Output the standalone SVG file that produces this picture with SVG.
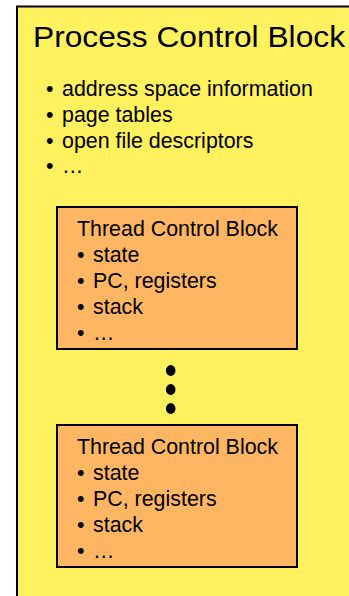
<svg xmlns="http://www.w3.org/2000/svg" width="349" height="596" viewBox="0 0 349 596">
  <style>
    .pcb { fill: #FFF25E; stroke: #000; stroke-width: 2; }
    .tcb { fill: #FFB662; stroke: #000; stroke-width: 2; }
    text { font-family: "Liberation Sans", Arial, sans-serif; fill: #000; }
    .title { font-size: 30px; }
    .item { font-size: 21.4px; }
    .dot { fill: #000; }
  </style>
  <rect width="349" height="596" fill="#fff"/>

  <!-- process control block (extends past the right and bottom edges) -->
  <g id="pcb">
    <rect class="pcb" x="17" y="6.5" width="345" height="600"/>
    <text class="title" x="33" y="47" textLength="312" lengthAdjust="spacingAndGlyphs">Process Control Block</text>
    <text class="item" x="46" y="96">•</text>
    <text class="item" x="62" y="96">address space information</text>
    <text class="item" x="46" y="122">•</text>
    <text class="item" x="62" y="122">page tables</text>
    <text class="item" x="46" y="147.5">•</text>
    <text class="item" x="62" y="147.5">open file descriptors</text>
    <text class="item" x="46" y="173">•</text>
    <text class="item" x="62" y="173">…</text>
  </g>

  <!-- first thread control block -->
  <g id="tcb1">
    <rect class="tcb" x="57" y="207" width="240" height="142"/>
    <text class="item" x="77" y="236">Thread Control Block</text>
    <text class="item" x="77" y="262">•</text>
    <text class="item" x="93" y="262">state</text>
    <text class="item" x="77" y="288">•</text>
    <text class="item" x="93" y="288">PC, registers</text>
    <text class="item" x="77" y="314">•</text>
    <text class="item" x="93" y="314">stack</text>
    <text class="item" x="77" y="340">•</text>
    <text class="item" x="93" y="340">…</text>
  </g>

  <!-- vertical ellipsis between the thread blocks -->
  <g id="ellipsis">
    <ellipse class="dot" cx="170.7" cy="370.5" rx="4.8" ry="5.4"/>
    <ellipse class="dot" cx="170.7" cy="389.5" rx="4.8" ry="5.4"/>
    <ellipse class="dot" cx="170.7" cy="408.5" rx="4.8" ry="5.4"/>
  </g>

  <!-- second thread control block -->
  <g id="tcb2">
    <rect class="tcb" x="57" y="425" width="240" height="142"/>
    <text class="item" x="77" y="454">Thread Control Block</text>
    <text class="item" x="77" y="480">•</text>
    <text class="item" x="93" y="480">state</text>
    <text class="item" x="77" y="506">•</text>
    <text class="item" x="93" y="506">PC, registers</text>
    <text class="item" x="77" y="532">•</text>
    <text class="item" x="93" y="532">stack</text>
    <text class="item" x="77" y="558">•</text>
    <text class="item" x="93" y="558">…</text>
  </g>

  <g id="connectors"/>
</svg>
